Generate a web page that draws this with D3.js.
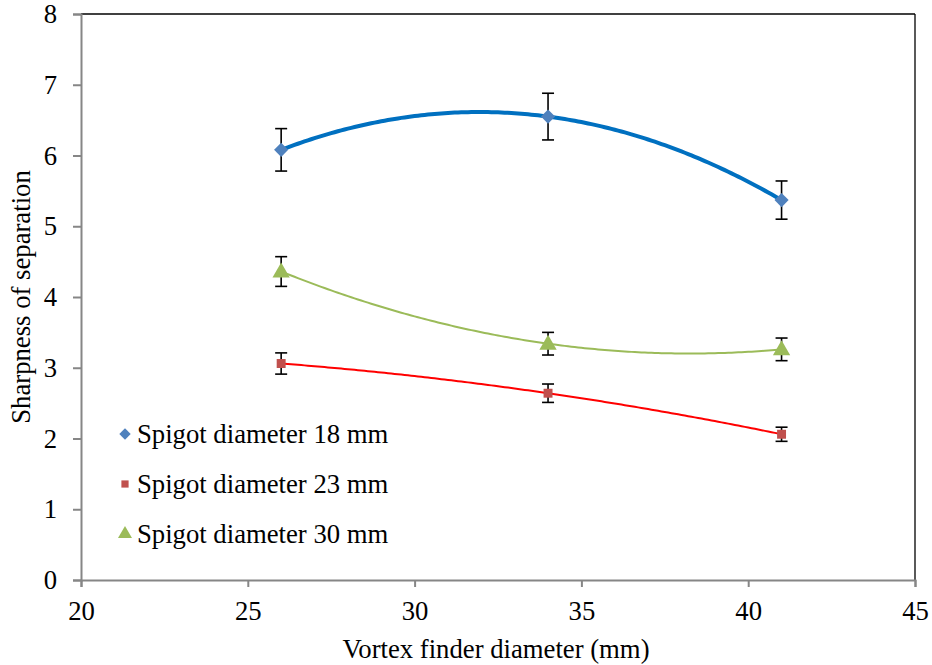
<!DOCTYPE html>
<html><head><meta charset="utf-8">
<script src="https://cdn.jsdelivr.net/npm/d3@7"></script>
<style>body{margin:0;background:#fff}text{font-family:"Liberation Serif","Times New Roman",serif}</style>
</head><body><svg id="c" width="932" height="665"></svg>
<script>
const vortexDiameters = [26, 34, 41];
const seriesNames = ["Spigot diameter 18 mm", "Spigot diameter 23 mm", "Spigot diameter 30 mm"];
const sharp18 = [6.08, 6.55, 5.37];
const err18 = [0.30, 0.33, 0.27];
const sharp23 = [3.06, 2.64, 2.06];
const err23 = [0.15, 0.13, 0.10];
const sharp30 = [4.36, 3.34, 3.26];
const err30 = [0.21, 0.16, 0.16];
const xTicks = [20, 25, 30, 35, 40, 45];
const yTicks = [0, 1, 2, 3, 4, 5, 6, 7, 8];

const svg = d3.select("#c");
const L = 81, R = 915, T = 14, B = 580;
const x = d3.scaleLinear().domain([20, 45]).range([L, R]);
const y = d3.scaleLinear().domain([0, 8]).range([B, T]);
const FS = "26.7px";

svg.append("line").attr("x1", L).attr("x2", R).attr("y1", T).attr("y2", T).attr("stroke", "#000").attr("stroke-width", 1.3);
svg.append("line").attr("x1", R).attr("x2", R).attr("y1", T).attr("y2", B).attr("stroke", "#000").attr("stroke-width", 1.3);

const gx = svg.append("g").attr("transform", `translate(0,${B})`)
  .call(d3.axisBottom(x).tickValues(xTicks).tickSize(7).tickPadding(14).tickFormat(d3.format("d")));
const gy = svg.append("g").attr("transform", `translate(${L},0)`)
  .call(d3.axisLeft(y).tickValues(yTicks).tickSize(8).tickPadding(16).tickFormat(d3.format("d")));
[gx, gy].forEach(g => {
  g.attr("font-family", null).attr("font-size", null);
  g.select(".domain").attr("stroke", "#868686").attr("stroke-width", 2);
  g.selectAll(".tick line").attr("stroke", "#868686").attr("stroke-width", 2);
  g.selectAll(".tick text").attr("fill", "#000").style("font-size", FS);
});
gx.selectAll(".tick text").attr("dy", "0.71em");

svg.append("text").attr("x", (L + R) / 2 - 2).attr("y", 658).attr("text-anchor", "middle")
  .style("font-size", FS).text("Vortex finder diameter (mm)");
svg.append("text").attr("transform", `translate(30,${(T + B) / 2}) rotate(-90)`).attr("text-anchor", "middle")
  .style("font-size", FS).text("Sharpness of separation");

const series = [
  {vals: sharp18, err: err18, line: "#0070C0", lw: 4, mk: "#4F81BD", sym: d3.symbolSquare, rot: 45, size: 100, dy: 0},
  {vals: sharp23, err: err23, line: "#FF0000", lw: 2, mk: "#C0504D", sym: d3.symbolSquare, rot: 0, size: 80, dy: 0},
  {vals: sharp30, err: err30, line: "#9BBB59", lw: 2, mk: "#9BBB59", sym: d3.symbolTriangle, rot: 0, size: 130, dy: 1}
];

function quadFit(xs, ys) {
  return t => ys.reduce((s, yi, i) => {
    let p = yi;
    xs.forEach((xj, j) => { if (j !== i) p *= (t - xj) / (xs[i] - xj); });
    return s + p;
  }, 0);
}

const samples = d3.range(vortexDiameters[0], vortexDiameters[2] + 0.001, 0.1);
const lineGen = d3.line().x(d => x(d[0])).y(d => y(d[1]));

series.forEach(s => {
  const f = quadFit(vortexDiameters, s.vals);
  svg.append("path").datum(samples.map(t => [t, f(t)])).attr("d", lineGen)
    .attr("fill", "none").attr("stroke", s.line).attr("stroke-width", s.lw);
});

series.forEach(s => {
  const g = svg.append("g");
  vortexDiameters.forEach((d, i) => {
    const cx = x(d), v = s.vals[i], e = s.err[i];
    g.append("line").attr("x1", cx).attr("x2", cx).attr("y1", y(v + e)).attr("y2", y(v - e)).attr("stroke", "#000").attr("stroke-width", 1.6);
    [v + e, v - e].forEach(w => g.append("line").attr("x1", cx - 6).attr("x2", cx + 6).attr("y1", y(w)).attr("y2", y(w)).attr("stroke", "#000").attr("stroke-width", 1.6));
  });
  vortexDiameters.forEach((d, i) => {
    g.append("path").attr("d", d3.symbol().type(s.sym).size(s.size)())
      .attr("transform", `translate(${x(d)},${y(s.vals[i]) + s.dy}) rotate(${s.rot})`).attr("fill", s.mk);
  });
});

const legY = [434, 484, 534];
series.forEach((s, i) => {
  svg.append("path").attr("d", d3.symbol().type(s.sym).size(s.size * 0.65)())
    .attr("transform", `translate(125,${legY[i]}) rotate(${s.rot})`).attr("fill", s.mk);
  svg.append("text").attr("x", 137).attr("y", legY[i] + 9).style("font-size", FS).text(seriesNames[i]);
});
</script></body></html>
